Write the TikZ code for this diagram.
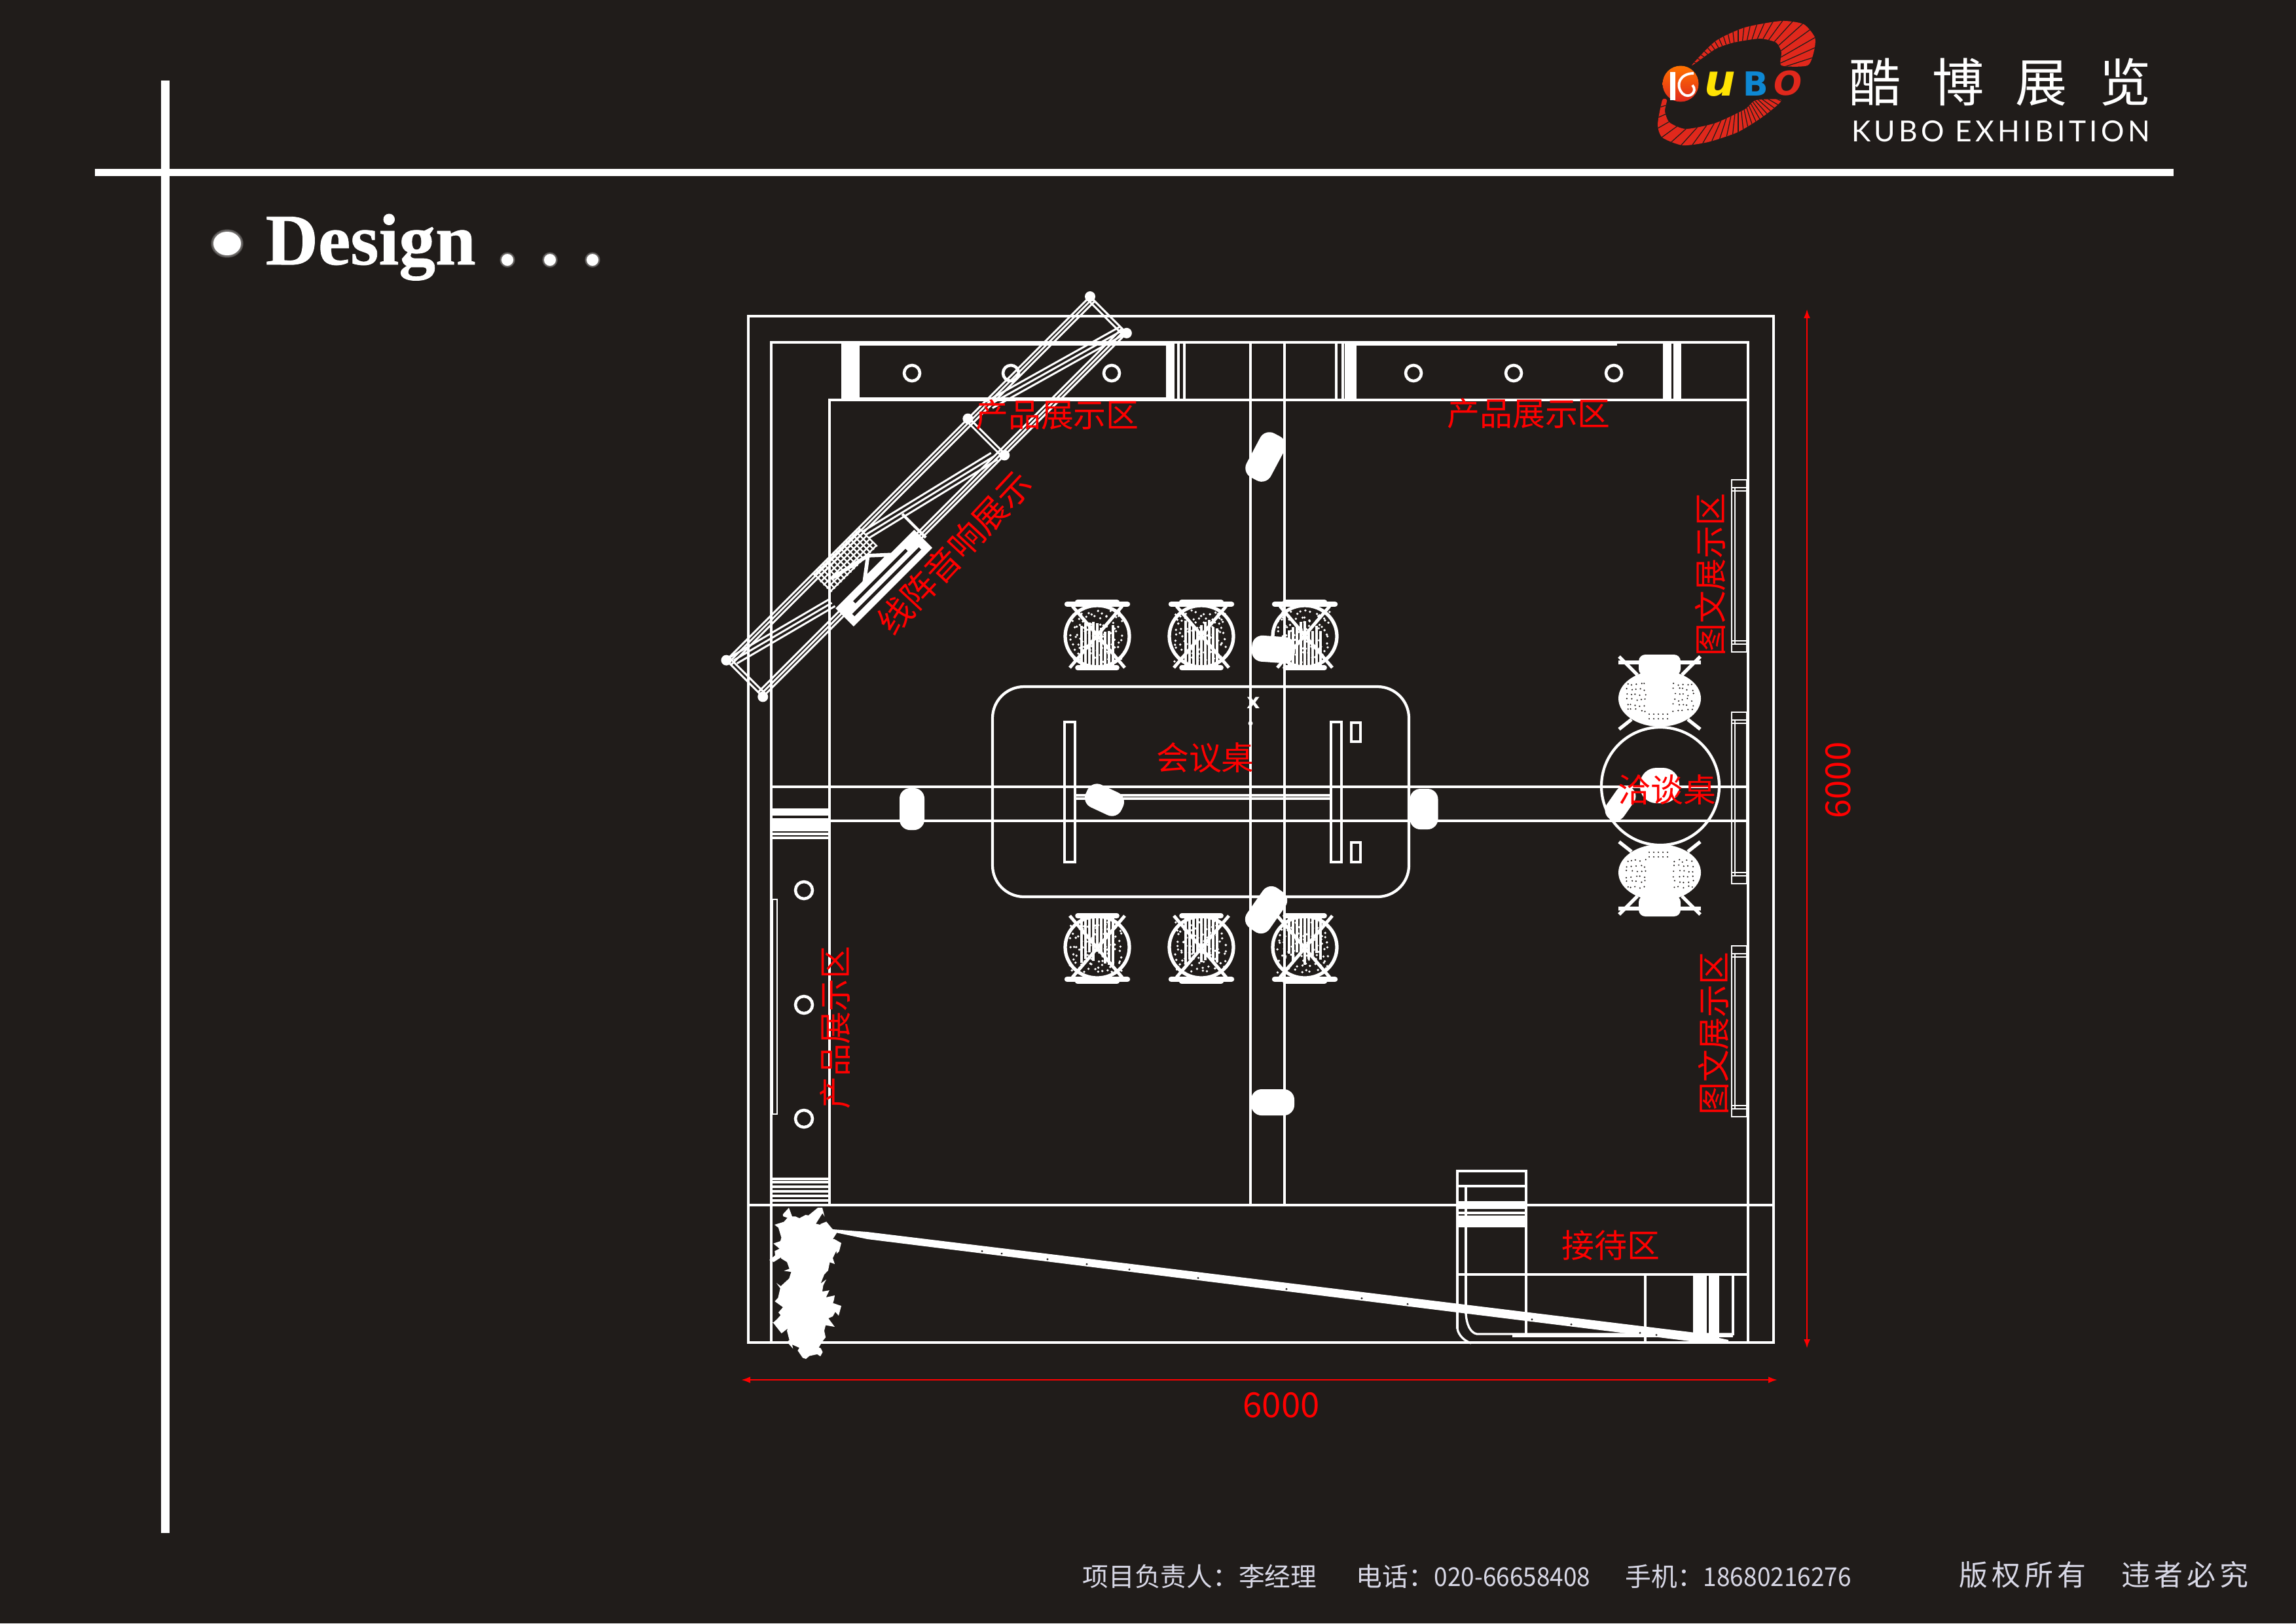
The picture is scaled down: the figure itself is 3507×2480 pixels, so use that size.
\documentclass[tikz,border=0pt]{standalone}
\usepackage{fontspec}
\usepackage{graphicx}
\newfontfamily\cjk{Noto Sans CJK SC}
\newfontfamily\titlefont[UprightFont=* Bold,FakeBold=.7]{Liberation Serif}
\newfontfamily\logofont{DejaVu Sans}
\newfontfamily\latinfont[LetterSpace=12]{Lato}
\usetikzlibrary{arrows.meta,decorations.pathmorphing}
\definecolor{bgdark}{HTML}{201C1A}
\definecolor{logored}{HTML}{E0281C}
\definecolor{footgrey}{HTML}{D8D8E6}
\tikzset{
wall/.style={draw=white,line width=1.2pt},
thinwall/.style={draw=white,line width=.95pt},
panelline/.style={draw=white,line width=.6pt},
trussline/.style={draw=white,line width=.85pt},
redlabel/.style={text=red,inner sep=0pt,font=\cjk\fontsize{14.2}{14.2}\selectfont},
dimarrow/.style={draw=red,line width=.7pt,{Latex[length=.14cm,width=.1cm]}-{Latex[length=.14cm,width=.1cm]}},
seatblob/.style={fill=white,rounded corners=.16cm,inner sep=0pt},
foottext/.style={text=footgrey,inner sep=0pt,anchor=base west,font=\cjk\fontsize{11.3}{11.3}\selectfont},
designtext/.style={text=white,inner sep=0pt,anchor=base west,font=\titlefont\fontsize{31.6}{31.6}\selectfont},
meshchair/.pic={
\draw[white,line width=1.5pt](0,2)ellipse(49 and 47);
\draw[white,line width=2.4pt,line cap=round](-46,-47)--(46,-47);
\draw[white,line width=2.4pt,line cap=round](-30,-50)--(30,-50);
\draw[white,line width=2.2pt,line cap=round](-30,50)--(30,50);
\draw[white,line width=1.4pt](-38,-44)--(42,50);
\draw[white,line width=1.4pt](38,-44)--(-42,50);
\foreach \x in {-24,-18,...,24}\draw[white,line width=.95pt](\x,-14+12*rand)--(\x,46);
\foreach \x in {-38,-30,...,38}\foreach \y in {-34,-26,...,38}\fill[white](\x+4*rand,\y+4*rand)circle(1.9);
},
loungechair/.pic={
\fill[white](0,10)ellipse(63 and 43);
\fill[white,rounded corners=.1cm](-32,-57)rectangle(32,-25);
\draw[white,line width=1.5pt](-63,-45)--(-30,-45);
\draw[white,line width=1.5pt](63,-45)--(30,-45);
\draw[white,line width=1.5pt](-62,-54)--(-34,-26);
\draw[white,line width=1.5pt](62,-54)--(34,-26);
\draw[white,line width=1.5pt](-43,42)--(-62,57);
\draw[white,line width=1.5pt](43,42)--(62,57);
\foreach \x in {-50,-43,...,-22,22,29,...,50}\foreach \y in {-12,-4,...,28}\fill[bgdark](\x+2*rand,\y+2*rand)circle(1.2);
\foreach \x in {-16,-9,...,16}\foreach \y in {34,41}\fill[bgdark](\x,\y)circle(1.2);
}
}
\begin{document}
\begin{tikzpicture}[x=.01cm,y=-.01cm]
\useasboundingbox(0,0)rectangle(3507,2480);
\fill[bgdark](0,0)rectangle(3507,2480);
\pgfmathsetseed{11}
\def\outl{1143}
\def\outr{2709}
\def\outt{483}
\def\outb{2051}
\def\inl{1178}
\def\inr{2670}
\def\int{523}
\def\wall{1267}
\def\bandt{1202}
\def\bandb{1254}
\def\aisl{1910}
\def\aisr{1962}
\def\recp{1841}
\fill[white](145,258)rectangle(3320,269);
\fill[white](246,123)rectangle(259,2342);
\begin{scope}
\clip plot[smooth cycle,tension=.4]coordinates{(2584,100)(2620,63)(2665,42)(2721,32)(2755,37)(2772,57)(2771,77)(2761,100)(2721,100)(2721,80)(2713,65)(2688,59)(2648,65)(2620,75)};
\fill[logored](2500,0)rectangle(2800,120);
\foreach \ang in {0,6,...,354}\draw[bgdark,line width=.35pt](2655,125)--+(\ang:160);
\end{scope}
\begin{scope}
\clip plot[smooth cycle,tension=.4]coordinates{(2539,153)(2532,190)(2539,210)(2570,222)(2609,217)(2654,202)(2693,178)(2721,153)(2682,153)(2665,167)(2620,188)(2575,197)(2550,187)(2543,170)(2546,153)};
\fill[logored](2500,140)rectangle(2800,240);
\foreach \ang in {0,6,...,354}\draw[bgdark,line width=.35pt](2655,125)--+(\ang:160);
\end{scope}
\shade[top color=orange!90!red,bottom color=logored](2567,128)circle(27.5);
\fill[white](2551,110)rectangle(2559,153);
\draw[white,line width=1.1pt](2587,112)..controls(2566,112)and(2558,130)..(2570,143)..controls(2580,152)and(2594,140)..(2585,130);
\node(logou)[text=yellow!85!orange,inner sep=0pt,font=\logofont\bfseries\itshape\fontsize{19}{19}\selectfont]at(2627,129){u};
\node(logob)[text=cyan!70!blue,inner sep=0pt,font=\logofont\bfseries\fontsize{14.4}{14.4}\selectfont]at(2682,128){B};
\node(logoo)[text=logored,inner sep=0pt,font=\logofont\bfseries\itshape\fontsize{14.4}{14.4}\selectfont]at(2731,127){O};
\node(brandcn)[text=white,inner sep=0pt,font=\cjk\fontsize{22.5}{22.5}\selectfont]at(3055,125){酷\hspace{.48cm}博\hspace{.48cm}展\hspace{.48cm}览};
\node(branden)[text=white,inner sep=0pt,font=\latinfont\fontsize{12.6}{12.6}\selectfont]at(3056,201){KUBO EXHIBITION};
\foreach \ang in {0,45,...,315}{
\fill[white,opacity=.14]([shift={(\ang:4)}]347,372)ellipse(21 and 18);
\foreach \dotx in {775,840,905}\fill[white,opacity=.14]([shift={(\ang:3)}]\dotx,397)circle(9);
}
\node(design)[designtext]at(405,404){Design};
\fill[white](347,372)ellipse(21 and 18);
\foreach \dotx in {775,840,905}\fill[white](\dotx,397)circle(9);
\draw[wall](\outl,\outt)rectangle(\outr,\outb);
\draw[wall](\inl,\outb)--(\inl,\int)--(\inr,\int)--(\inr,\outb);
\draw[wall](\outl,\recp)--(\outr,\recp);
\draw[wall](\wall,\recp)--(\wall,611)--(\inr,611);
\draw[thinwall](\inl,\bandt)--(\inr,\bandt);
\draw[thinwall](\wall,\bandb)--(\inr,\bandb);
\draw[thinwall](\aisl,\int)--(\aisl,\recp);
\draw[thinwall](\aisr,\int)--(\aisr,\recp);
\fill[white](1285,\int)rectangle(1313,611);
\fill[white](1781,\int)rectangle(1794,611);
\draw[thinwall](1800,\int)--(1800,611);
\draw[thinwall](1809,\int)--(1809,611);
\draw[thinwall](2041,\int)--(2041,611);
\draw[thinwall](2051,\int)--(2051,611);
\fill[white](2054,\int)rectangle(2072,611);
\fill[white](2540,\int)rectangle(2553,611);
\fill[white](2556,\int)rectangle(2568,611);
\fill[white](1313,523)rectangle(1781,528);
\fill[white](2072,523)rectangle(2470,528);
\fill[white](1313,607)rectangle(1781,612);
\foreach \cx in {1393,1544,1698,2159,2312,2465}\draw[white,line width=1.3pt](\cx,570)circle(12);
\foreach \cy in {1360,1535,1709}\draw[white,line width=1.3pt](1228,\cy)circle(13);
\fill[white](\inl,1235)rectangle(\wall,1246);
\fill[white](\inl,1250)rectangle(\wall,1270);
\draw[thinwall](\inl,1274)--(\wall,1274);
\draw[thinwall](\inl,1280)--(\wall,1280);
\foreach \ly in {1801,1806,1813,1820,1827,1834}\draw[thinwall](\inl,\ly)--(\wall,\ly);
\draw[panelline](1180,1374)rectangle(1187,1702);
\begin{scope}[shift={(1665,453)},x={(-.007071cm,-.007071cm)},y={(.007071cm,-.007071cm)}]
\foreach \v in {0,5,10,69,74,79}\draw[trussline](0,\v)--(786,\v);
\foreach \u in {0,6,262,268,780,786}\draw[trussline](\u,0)--(\u,79);
\foreach \o in {-7,0,7}{
\draw[trussline](0,72+\o)--(226,8+\o);
\draw[trussline](276,69+\o)--(500,15+\o);
\draw[trussline](610,52+\o)--(778,8+\o);
}
\foreach \u/\v in {0/0,0/79,264/0,264/79,786/0,786/79}\fill[white](\u,\v)circle(8);
\draw[white,line width=1.2pt](438,32)--(438,83);
\foreach \u in {500,507,...,600}\draw[white,line width=.7pt](\u,0)--(\u,40);
\foreach \v in {3,10,...,38}\draw[white,line width=.7pt](500,\v)--(600,\v);
\fill[white](442,62)--(612,62)--(612,101)--(442,101)--cycle;
\fill[bgdark](456,86)--(600,86)--(600,91)--(456,91)--cycle;
\fill[bgdark](472,73)--(585,73)--(585,78)--(472,78)--cycle;
\draw[white,line width=1.6pt](520,40)--(496,62)--(549,62)--cycle;
\draw[white,line width=1.6pt](585,25)--(520,40);
\end{scope}
\draw[wall,rounded corners=.48cm](1516,1049)rectangle(2152,1370);
\draw[thinwall](1626,1103)rectangle(1642,1317);
\draw[thinwall](2033,1103)rectangle(2049,1317);
\draw[thinwall](2064,1104)rectangle(2078,1133);
\draw[thinwall](2064,1287)rectangle(2078,1317);
\draw[thinwall](1642,1215)--(2033,1215);
\draw[thinwall](1642,1220)--(2033,1220);
\node(crossa)[text=white,inner sep=0pt,font=\logofont\bfseries\fontsize{9}{9}\selectfont]at(1915,1074){x};
\fill[white](1910,1105)circle(3.5);
\node(seatupper)[seatblob,minimum width=.76cm,minimum height=.42cm,rotate=62]at(1933,698){};
\node(seatchair)[seatblob,minimum width=.66cm,minimum height=.4cm,rotate=-4]at(1945,992){};
\node(seatleft)[seatblob,minimum width=.38cm,minimum height=.64cm]at(1393,1236){};
\node(seatcentre)[seatblob,minimum width=.6cm,minimum height=.38cm,rotate=-25]at(1687,1222){};
\node(seatright)[seatblob,minimum width=.43cm,minimum height=.62cm]at(2175,1236){};
\node(seatlower)[seatblob,minimum width=.74cm,minimum height=.42cm,rotate=55]at(1934,1390){};
\node(seataisle)[seatblob,minimum width=.66cm,minimum height=.4cm]at(1944,1684){};
\foreach \cx in {1676,1835,1993}{
\pic at(\cx,970){meshchair};
\pic[yscale=-1]at(\cx,1449){meshchair};
}
\pic at(2535,1057){loungechair};
\pic[yscale=-1]at(2535,1343){loungechair};
\draw[wall](2536,1201)circle(90);
\node(talkblobb)[seatblob,rounded corners=.25cm,minimum width=.6cm,minimum height=.54cm]at(2535,1200){};
\node(talkbloba)[seatblob,minimum width=.58cm,minimum height=.32cm,rotate=55]at(2475,1227){};
\foreach \py/\pb in {733/996,1088/1350,1445/1706}{
\draw[panelline](2645,\py)rectangle(2668,\pb);
\draw[panelline](2650,\py+12)--(2650,\pb-12);
\draw[panelline](2645,\py+12)--(2668,\py+12);
\draw[panelline](2645,\py+17)--(2668,\py+17);
\draw[panelline](2645,\pb-12)--(2668,\pb-12);
\draw[panelline](2645,\pb-17)--(2668,\pb-17);
}
\draw[thinwall](2226,2030)--(2226,1789)--(2331,1789)--(2331,2037);
\draw[thinwall](2226,1812)--(2331,1812);
\draw[thinwall](2239,1812)--(2239,2007);
\fill[white](2226,1835)rectangle(2331,1847);
\draw[thinwall](2226,1853)--(2331,1853);
\fill[white](2226,1857)rectangle(2331,1875);
\draw[thinwall](2227,1947)--(2668,1947);
\draw[thinwall](2513,1947)--(2513,\outb);
\fill[white](2586,1947)rectangle(2607,\outb);
\fill[white](2610,1947)rectangle(2626,\outb);
\draw[thinwall](2647,1947)--(2647,2040);
\draw[thinwall](2226,2030)..controls(2228,2040)and(2236,2048)..(2247,2052);
\draw[thinwall](2239,2007)..controls(2240,2022)and(2245,2036)..(2256,2038)--(2647,2038);
\fill[white](2310,2038)rectangle(2647,2043);
\fill[white](1272,1878)--(1325,1882)--(2000,1964)--(2590,2036)--(2640,2047)--(2640,2051)--(2590,2050)--(2000,1977)--(1325,1893)--(1272,1882)--cycle;
\foreach \dx in {1500,1530,1600,1660,1725,1830,1965,2080,2150,2340,2400,2505,2530}\fill[bgdark](\dx,{1883+(\dx-1272)*.1243})circle(1.6);
\fill[white,decorate,decoration={random steps,segment length=2pt,amplitude=2.2pt}](1205,1845)--(1221,1861)--(1256,1845)--(1253,1871)--(1271,1877)--(1272,1893)--(1285,1899)--(1272,1922)--(1275,1931)--(1259,1947)--(1256,1973)--(1275,1979)--(1272,1992)--(1285,1995)--(1272,2011)--(1275,2027)--(1259,2033)--(1253,2072)--(1231,2076)--(1221,2059)--(1202,2050)--(1202,2033)--(1177,2024)--(1189,2005)--(1186,1960)--(1205,1954)--(1202,1928)--(1175,1925)--(1192,1896)--(1183,1871)--(1196,1858)--cycle;
\node(prodtopl)[redlabel]at(1615,634){产品展示区};
\node(prodtopr)[redlabel]at(2335,632){产品展示区};
\node(prodleft)[redlabel,rotate=90]at(1276,1570){产品展示区};
\node(linearray)[redlabel,font=\cjk\fontsize{15}{15}\selectfont,rotate=47]at(1458,844){线阵音响展示};
\node(graphupper)[redlabel,rotate=90]at(2612,878){图文展示区};
\node(graphlower)[redlabel,rotate=90]at(2617,1579){图文展示区};
\node(meeting)[redlabel]at(1841,1158){会议桌};
\node(talks)[redlabel]at(2546,1207){洽谈桌};
\node(reception)[redlabel]at(2460,1903){接待区};
\coordinate(dimxa)at(1132,2108);
\coordinate(dimxb)at(2715,2108);
\coordinate(dimya)at(2760,472);
\coordinate(dimyb)at(2760,2060);
\draw[dimarrow](dimxa)--(dimxb);
\draw[dimarrow](dimya)--(dimyb);
\node(dimxlabel)[redlabel,font=\cjk\fontsize{15}{15}\selectfont]at(1957,2147){6000};
\node(dimylabel)[redlabel,font=\cjk\fontsize{15}{15}\selectfont,rotate=90]at(2808,1192){6000};
\node(footname)[foottext]at(1653,2423){项目负责人：李经理};
\node(foottel)[foottext]at(2071,2423){电话：\scalebox{.93}[1]{020-66658408}};
\node(footmob)[foottext]at(2482,2423){手机：\scalebox{.93}[1]{18680216276}};
\node(footright)[foottext,font=\cjk\fontsize{12.5}{12.5}\selectfont]at(2992,2422){版\hspace{.06cm}权\hspace{.06cm}所\hspace{.06cm}有};
\node(footbreach)[foottext,font=\cjk\fontsize{12.5}{12.5}\selectfont]at(3240,2422){违\hspace{.06cm}者\hspace{.06cm}必\hspace{.06cm}究};
\end{tikzpicture}
\end{document}
